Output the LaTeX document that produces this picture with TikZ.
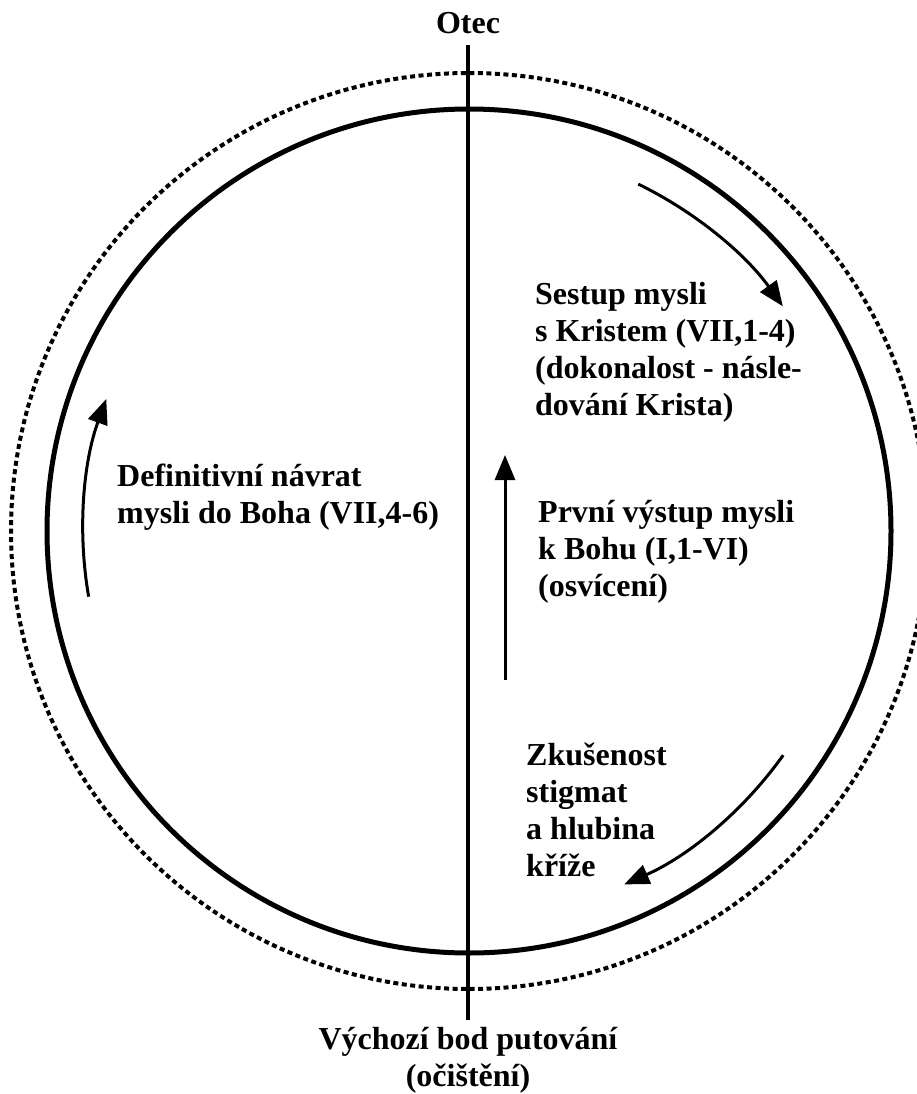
\documentclass[tikz,border=0pt]{standalone}
\usepackage{fontspec}
\setmainfont{Liberation Serif}
\usetikzlibrary{arrows.meta}

\begin{document}
\begin{tikzpicture}[x=1pt,y=-1pt,
  txt/.style={inner sep=0pt,align=left,font=\fontsize{32}{37}\selectfont\bfseries},
  ring/.style={line width=5pt},
  dotring/.style={line width=4pt,dash pattern=on 5pt off 3.5pt},
  axis/.style={line width=4.5pt},
  flow/.style={line width=3pt,-{Triangle[length=25pt,width=20pt]}}]
\useasboundingbox (0,0) rectangle (917,1094);
\clip (0,0) rectangle (917,1094);
\coordinate (centre) at (469,531);
\draw[ring] (centre) circle[radius=422];
\draw[dotring] (centre) circle[radius=458];
\coordinate (axis top) at (468,45);
\coordinate (axis bottom) at (468,1020);
\draw[axis] (axis top) -- (axis bottom);
\node[txt,anchor=base] (otec) at (468,34) {Otec};
\node[txt,align=center,anchor=north] (start) at (468,1027) {Výchozí bod putování\\(očištění)};
\node[txt,anchor=north west] (sestup) at (535,282) {Sestup mysli\\s Kristem (VII,1-4)\\(dokonalost - násle-\\dování Krista)};
\node[txt,anchor=north west] (prvni) at (538,500) {První výstup mysli\\k Bohu (I,1-VI)\\(osvícení)};
\node[txt,anchor=north west] (navrat) at (117,464) {Definitivní návrat\\mysli do Boha (VII,4-6)};
\node[txt,anchor=north west] (stigmata) at (526,743) {Zkušenost\\stigmat\\a hlubina\\kříže};
\coordinate (descent) at ([shift={(-64:386)}]centre);
\coordinate (cross) at ([shift={(35.5:386)}]centre);
\coordinate (return) at ([shift={(170.2:386)}]centre);
\coordinate (ascent foot) at (505,680);
\coordinate (ascent tip) at (505,455);
\draw[flow] (descent) arc[start angle=-64,end angle=-35.6,radius=386];
\draw[flow] (cross) arc[start angle=35.5,end angle=66.3,radius=386];
\draw[flow] (return) arc[start angle=170.2,end angle=200,radius=386];
\draw[flow] (ascent foot) -- (ascent tip);
\end{tikzpicture}
\end{document}
